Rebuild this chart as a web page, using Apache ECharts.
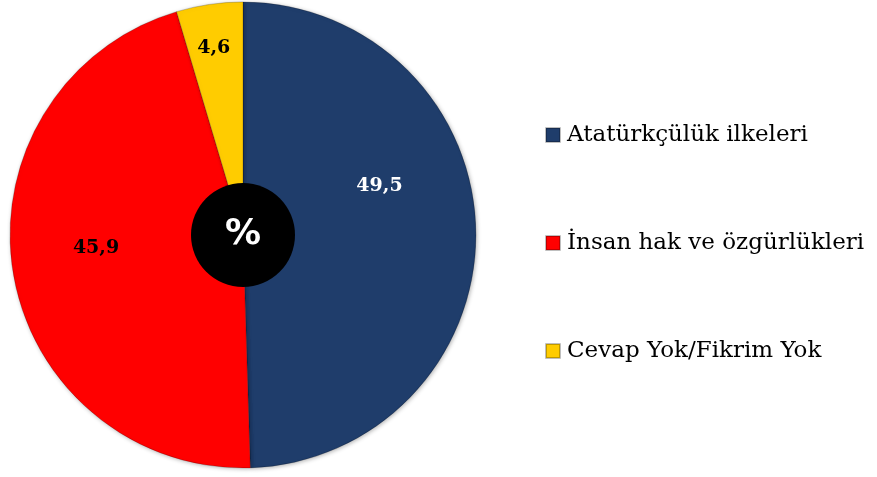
<!DOCTYPE html>
<html>
<head>
<meta charset="utf-8">
<script src="https://cdn.jsdelivr.net/npm/echarts@6/dist/echarts.min.js"></script>
<style>
    html, body { margin: 0; padding: 0; background: #fff; }
    #main { width: 877px; height: 477px; }
</style>
</head>
<body>
<div id="main"></div>
<script>
    // veriler
    const categories = ['Atatürkçülük ilkeleri', 'İnsan hak ve özgürlükleri', 'Cevap Yok/Fikrim Yok'];
    const values = [49.5, 45.9, 4.6];
    const colors = ['#1f3d6b', '#ff0000', '#ffcc00'];
    const labelColors = ['#fff', '#000', '#000'];
    // etiket kaydırmaları (dx, dy)
    const labelShift = [[17, -47], [-29, -6], [-12, -69]];

    const center = [243, 235];
    const radius = 233;

    const chart = echarts.init(document.getElementById('main'));

    let option = {
        animation: false,
        color: colors,
        legend: {
            orient: 'vertical',
            left: 540,
            top: 118,
            itemWidth: 14,
            itemHeight: 14,
            itemGap: 84,
            icon: 'rect',
            textStyle: {
                fontFamily: 'DejaVu Serif',
                fontSize: 23,
                color: '#000',
                lineHeight: 24,
                padding: [0, 0, 0, 2]
            },
            data: categories
        },
        series: [{
            type: 'pie',
            center: center,
            radius: [0, radius],
            startAngle: 90,
            clockwise: true,
            label: {
                show: true,
                position: 'inside',
                fontFamily: 'DejaVu Serif',
                fontWeight: 'bold',
                fontSize: 19,
                formatter: p => String(p.value).replace('.', ',')
            },
            labelLine: { show: false },
            labelLayout: p => ({ dx: labelShift[p.dataIndex][0], dy: labelShift[p.dataIndex][1] }),
            itemStyle: {
                borderColor: 'rgba(0,0,0,0.25)',
                borderWidth: 0.8,
                shadowBlur: 4,
                shadowColor: 'rgba(0,0,0,0.3)',
                shadowOffsetX: 1,
                shadowOffsetY: 1
            },
            data: categories.map((c, i) => ({
                name: c,
                value: values[i],
                label: { color: labelColors[i] }
            }))
        }, {
            type: 'pie',
            center: center,
            radius: [0, 52],
            silent: true,
            label: {
                show: true,
                position: 'center',
                formatter: '%',
                color: '#fff',
                fontFamily: 'DejaVu Sans',
                fontWeight: 'bold',
                fontSize: 36
            },
            labelLine: { show: false },
            itemStyle: { color: '#000' },
            data: [{ name: '%', value: 1 }]
        }]
    };

    chart.setOption(option);
</script>
</body>
</html>
